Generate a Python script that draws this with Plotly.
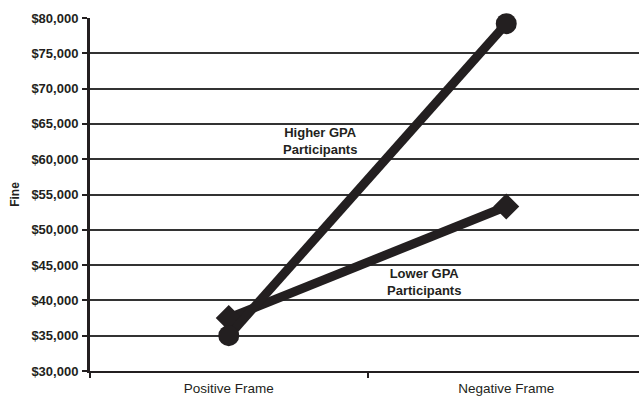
import plotly.graph_objects as go

categories = ["Positive Frame", "Negative Frame"]
higher_gpa = [35000, 79200]
lower_gpa = [37500, 53300]
y_ticks = [30000, 35000, 40000, 45000, 50000, 55000, 60000, 65000, 70000, 75000, 80000]
y_labels = ["<b>$" + format(v, ",") + "</b>" for v in y_ticks]

ink = "#231f20"
font_family = "Liberation Sans, Arial"
fig = go.Figure()
fig.add_trace(go.Scatter(x=categories, y=lower_gpa, mode="lines+markers",
                         line=dict(color=ink, width=9),
                         marker=dict(symbol="diamond", size=20, color=ink),
                         name="Lower GPA Participants", cliponaxis=False))
fig.add_trace(go.Scatter(x=categories, y=higher_gpa, mode="lines+markers",
                         line=dict(color=ink, width=9),
                         marker=dict(symbol="circle", size=21, color=ink),
                         name="Higher GPA Participants", cliponaxis=False))

fig.add_annotation(x=0.33, y=62600, xref="x", yref="y",
                   text="<b>Higher GPA<br>Participants</b>", showarrow=False,
                   font=dict(family=font_family, size=13, color=ink))
fig.add_annotation(x=0.705, y=42600, xref="x", yref="y",
                   text="<b>Lower GPA<br>Participants</b>", showarrow=False,
                   font=dict(family=font_family, size=13, color=ink))

fig.update_layout(
    width=645, height=399,
    margin=dict(l=90, r=0, t=18, b=28, autoexpand=False),
    paper_bgcolor="white", plot_bgcolor="white",
    showlegend=False,
    font=dict(family=font_family, color=ink),
)
fig.update_xaxes(type="category", range=[-0.5, 1.5], tickson="boundaries",
                 ticks="outside", ticklen=5, tickwidth=2, tickcolor=ink,
                 showline=True, linecolor=ink, linewidth=2, showgrid=False,
                 tickfont=dict(size=13.5, color=ink, family=font_family),
                 ticklabelstandoff=4, zeroline=False)
fig.update_yaxes(range=[30000, 80000], tickvals=y_ticks, ticktext=y_labels,
                 ticks="outside", ticklen=5, tickwidth=2, tickcolor=ink,
                 showline=True, linecolor=ink, linewidth=3,
                 showgrid=True, gridcolor="#333333", gridwidth=2, zeroline=False,
                 tickfont=dict(size=13, color=ink, family=font_family),
                 ticklabelstandoff=1,
                 title=dict(text="<b>Fine</b>", font=dict(size=12, family=font_family), standoff=10))

fig.write_html("out.html",
               post_script="document.body.style.margin='0';document.body.style.overflow='hidden';",
               config={"displayModeBar": False})
